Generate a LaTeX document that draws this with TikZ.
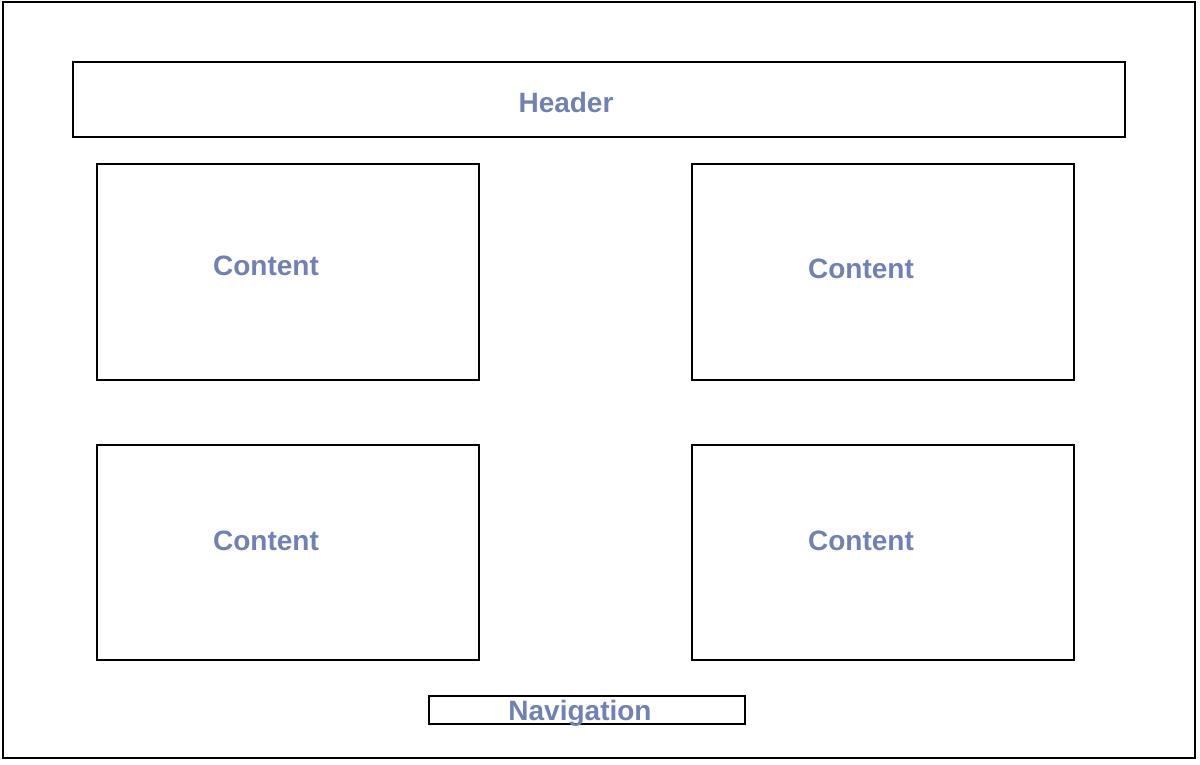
\documentclass[tikz,border=0pt]{standalone}
\usepackage{fontspec}
\setmainfont{Liberation Sans}
\definecolor{labelblue}{RGB}{112,129,178}
\begin{document}
\begin{tikzpicture}[x=1pt,y=-1pt,
  panel/.style={draw=black,line width=2.8pt,inner sep=0pt},
  label/.style={text=labelblue,font=\fontsize{28}{32}\selectfont\bfseries,inner sep=0pt,anchor=base}]
\useasboundingbox (0,0) rectangle (1200,764);
% page frame
\draw[panel] (3,2) rectangle (1195,758);
% boxes
\node[panel,minimum width=1052pt,minimum height=75pt] (header) at (599,99.5) {};
\node[panel,minimum width=382pt,minimum height=216pt] (c1) at (288,272) {};
\node[panel,minimum width=382pt,minimum height=216pt] (c2) at (883,272) {};
\node[panel,minimum width=382pt,minimum height=215pt] (c3) at (288,552.5) {};
\node[panel,minimum width=382pt,minimum height=215pt] (c4) at (883,552.5) {};
\node[panel,minimum width=316pt,minimum height=28pt] (nav) at (587,710) {};
% labels
\node[label] (th) at (566,112) {Header};
\node[label] (t1) at (266,275) {Content};
\node[label] (t2) at (861,278) {Content};
\node[label] (t3) at (266,550) {Content};
\node[label] (t4) at (861,550) {Content};
\node[label] (tn) at (580,720) {Navigation};
\end{tikzpicture}
\end{document}
